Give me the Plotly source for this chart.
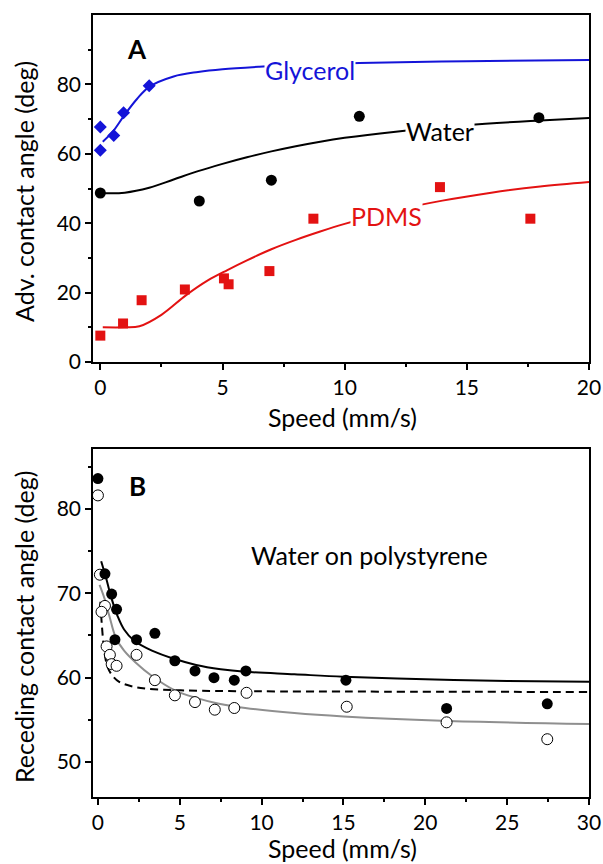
import plotly.graph_objects as go

# ---------------- Panel A data ----------------
gly_x = [0.0, 0.0, 0.55, 0.95, 2.0]
gly_y = [67.7, 61.0, 65.3, 71.8, 79.6]
gly_fit_x = [0.1, 0.5, 1.0, 1.5, 2.0, 3.0, 4.0, 5.0, 6.5, 8.0, 10.6, 15.0, 20.0]
gly_fit_y = [63.5, 66.3, 71.3, 75.8, 79.3, 82.3, 83.6, 84.4, 85.1, 85.6, 86.2, 86.7, 87.0]

wat_x = [0.0, 4.05, 7.0, 10.6, 17.95]
wat_y = [48.7, 46.4, 52.4, 70.8, 70.4]
wat_fit_x = [0.0, 1.0, 2.0, 3.0, 4.0, 5.0, 6.0, 7.0, 8.0, 9.0, 10.0, 12.0, 15.0, 18.0, 20.0]
wat_fit_y = [48.7, 48.8, 50.2, 52.6, 55.0, 57.1, 59.0, 60.7, 62.2, 63.5, 64.6, 66.3, 68.3, 69.6, 70.3]

pdms_x = [0.0, 0.93, 1.69, 3.46, 5.06, 5.25, 6.92, 8.72, 13.9, 17.6]
pdms_y = [7.6, 11.1, 17.8, 20.9, 24.1, 22.4, 26.2, 41.3, 50.4, 41.3]
pdms_fit_x = [0.1, 1.0, 1.6, 2.5, 3.5, 4.4, 5.2, 6.0, 7.0, 8.0, 9.0, 10.0, 12.0, 14.0, 16.0, 18.0, 20.0]
pdms_fit_y = [10.0, 10.0, 10.3, 13.6, 19.2, 23.5, 26.5, 29.3, 32.5, 35.2, 37.6, 39.8, 43.6, 46.5, 48.8, 50.6, 51.9]

# ---------------- Panel B data ----------------
fill_x = [0.0, 0.43, 0.84, 1.14, 1.04, 2.36, 3.48, 4.7, 5.93, 7.09, 8.33, 9.04, 15.15, 21.3, 27.45]
fill_y = [83.6, 72.3, 69.9, 68.1, 64.5, 64.5, 65.25, 62.0, 60.8, 60.0, 59.7, 60.8, 59.7, 56.35, 56.9]

open_x = [0.0, 0.12, 0.43, 0.22, 0.53, 0.73, 0.84, 1.14, 2.36, 3.48, 4.7, 5.93, 7.14, 8.33, 9.08, 15.2, 21.3, 27.45]
open_y = [81.6, 72.2, 68.5, 67.8, 63.7, 62.7, 61.6, 61.4, 62.7, 59.7, 57.9, 57.1, 56.2, 56.4, 58.2, 56.55, 54.7, 52.7]

blk_fit_x = [0.2, 0.5, 0.8, 1.2, 1.6, 2.2, 3.3, 4.7, 6.0, 7.5, 9.0, 12.0, 15.0, 20.0, 25.0, 30.0]
blk_fit_y = [73.8, 71.8, 69.6, 67.3, 65.7, 64.4, 63.2, 62.2, 61.5, 61.0, 60.7, 60.4, 60.1, 59.8, 59.6, 59.5]

gry_fit_x = [0.1, 0.4, 0.7, 1.1, 1.6, 2.3, 3.3, 4.7, 6.0, 7.4, 9.0, 12.0, 15.0, 21.0, 30.0]
gry_fit_y = [71.0, 69.4, 67.3, 64.7, 63.2, 61.8, 60.2, 58.5, 57.6, 56.9, 56.4, 55.8, 55.4, 54.9, 54.5]

dash_fit_x = [0.15, 0.25, 0.4, 0.6, 0.9, 1.3, 2.0, 3.0, 5.0, 8.0, 15.0, 30.0]
dash_fit_y = [69.0, 66.0, 63.0, 61.2, 60.2, 59.5, 59.0, 58.7, 58.5, 58.4, 58.35, 58.3]

# tick values
a_xticks = [0, 5, 10, 15, 20]
a_xminor = [2.5, 7.5, 12.5, 17.5]
a_yticks = [0, 20, 40, 60, 80]
a_yminor = [10, 30, 50, 70, 90]
b_xticks = [0, 5, 10, 15, 20, 25, 30]
b_xminor = [2.5, 7.5, 12.5, 17.5, 22.5, 27.5]
b_yticks = [50, 60, 70, 80]
b_yminor = [55, 65, 75, 85]

FONT = "Lato"
BLUE = "#1414D8"
RED = "#E31212"

fig = go.Figure()

# Panel A traces
fig.add_trace(go.Scatter(x=gly_fit_x, y=gly_fit_y, mode="lines", line=dict(color=BLUE, width=2, shape="spline"),
                         xaxis="x", yaxis="y", showlegend=False))
fig.add_trace(go.Scatter(x=wat_fit_x, y=wat_fit_y, mode="lines", line=dict(color="black", width=2, shape="spline"),
                         xaxis="x", yaxis="y", showlegend=False))
fig.add_trace(go.Scatter(x=pdms_fit_x, y=pdms_fit_y, mode="lines", line=dict(color=RED, width=2, shape="spline"),
                         xaxis="x", yaxis="y", showlegend=False))
fig.add_trace(go.Scatter(x=gly_x, y=gly_y, mode="markers", marker=dict(symbol="diamond", size=10, color=BLUE),
                         xaxis="x", yaxis="y", showlegend=False))
fig.add_trace(go.Scatter(x=wat_x, y=wat_y, mode="markers", marker=dict(symbol="circle", size=11, color="black"),
                         xaxis="x", yaxis="y", showlegend=False))
fig.add_trace(go.Scatter(x=pdms_x, y=pdms_y, mode="markers", marker=dict(symbol="square", size=10, color=RED),
                         xaxis="x", yaxis="y", showlegend=False))

# Panel B traces
fig.add_trace(go.Scatter(x=dash_fit_x, y=dash_fit_y, mode="lines",
                         line=dict(color="black", width=2, dash="8px,5px", shape="spline"),
                         xaxis="x2", yaxis="y2", showlegend=False))
fig.add_trace(go.Scatter(x=gry_fit_x, y=gry_fit_y, mode="lines", line=dict(color="#8f8f8f", width=2, shape="spline"),
                         xaxis="x2", yaxis="y2", showlegend=False))
fig.add_trace(go.Scatter(x=blk_fit_x, y=blk_fit_y, mode="lines", line=dict(color="black", width=2, shape="spline"),
                         xaxis="x2", yaxis="y2", showlegend=False))
fig.add_trace(go.Scatter(x=open_x, y=open_y, mode="markers",
                         marker=dict(symbol="circle", size=11, color="white", line=dict(color="black", width=1)),
                         xaxis="x2", yaxis="y2", showlegend=False))
fig.add_trace(go.Scatter(x=fill_x, y=fill_y, mode="markers", marker=dict(symbol="circle", size=11, color="black"),
                         xaxis="x2", yaxis="y2", showlegend=False))

DX = [93 / 603, 589 / 603]
DYA = [1 - 362 / 864, 1 - 15 / 864]
DYB = [1 - 797 / 864, 1 - 449 / 864]
XRA = [-0.3, 20]
YRA = [0, 100]
XRB = [-0.3, 30]
YRB = [45.85, 87.1]

tickfont = dict(family=FONT, size=21, color="black")
LW = 1.6


def main_axis(dom, rng, ticks, minor, anchor):
    return dict(domain=dom, range=rng, anchor=anchor, showline=True, linecolor="black", linewidth=LW,
                mirror=True, showgrid=False, zeroline=False, ticks="outside", ticklen=6, tickwidth=LW,
                tickcolor="black", tickvals=ticks, tickfont=tickfont, fixedrange=True, automargin=False,
                minor=dict(tickvals=minor, ticks="outside", ticklen=3, tickwidth=LW, tickcolor="black"))


def over_axis(dom, rng, ticks, minor, anchor, over, side, ln, mln):
    return dict(domain=dom, range=rng, anchor=anchor, overlaying=over, side=side, showline=False,
                showgrid=False, zeroline=False, ticks="inside", ticklen=ln, tickwidth=LW, tickcolor="black",
                tickvals=ticks, showticklabels=False, fixedrange=True, automargin=False,
                minor=dict(tickvals=minor, ticks="inside", ticklen=mln, tickwidth=LW, tickcolor="black"))


layout = dict(
    width=603, height=864, margin=dict(l=0, r=0, t=0, b=0, autoexpand=False),
    paper_bgcolor="white", plot_bgcolor="white", font=dict(family=FONT, color="black"),
    xaxis=main_axis(DX, XRA, a_xticks, a_xminor, "y"),
    yaxis=main_axis(DYA, YRA, a_yticks, a_yminor, "x"),
    xaxis2=main_axis(DX, XRB, b_xticks, b_xminor, "y2"),
    yaxis2=main_axis(DYB, YRB, b_yticks, b_yminor, "x2"),
    xaxis3=over_axis(DX, XRA, a_xticks, a_xminor, "y", "x", "bottom", 6, 3),
    xaxis4=over_axis(DX, XRA, a_xticks, a_xminor, "y", "x", "top", 5, 5),
    yaxis3=over_axis(DYA, YRA, a_yticks, a_yminor, "x", "y", "left", 6, 3),
    yaxis4=over_axis(DYA, YRA, a_yticks, a_yminor, "x", "y", "right", 5, 5),
    xaxis5=over_axis(DX, XRB, b_xticks, b_xminor, "y2", "x2", "bottom", 6, 3),
    xaxis6=over_axis(DX, XRB, b_xticks, b_xminor, "y2", "x2", "top", 5, 5),
    yaxis5=over_axis(DYB, YRB, b_yticks, b_yminor, "x2", "y2", "left", 6, 3),
    yaxis6=over_axis(DYB, YRB, b_yticks, b_yminor, "x2", "y2", "right", 5, 5),
)
fig.update_layout(**layout)

ann = []
lab = dict(showarrow=False, bgcolor="white", borderpad=0, xanchor="center", yanchor="middle")
ann.append(dict(x=8.57, y=84.2, xref="x", yref="y", text="Glycerol", font=dict(family=FONT, size=25, color=BLUE), **lab))
ann.append(dict(x=13.9, y=66.6, xref="x", yref="y", text="Water", font=dict(family=FONT, size=25, color="black"), **lab))
ann.append(dict(x=11.7, y=42.1, xref="x", yref="y", text="PDMS", font=dict(family=FONT, size=25, color=RED), **lab))
ann.append(dict(x=1.5, y=90.2, xref="x", yref="y", text="<b>A</b>", showarrow=False, xanchor="center", yanchor="middle",
                font=dict(family=FONT, size=26, color="black")))
ann.append(dict(x=2.39, y=82.7, xref="x2", yref="y2", text="<b>B</b>", showarrow=False, xanchor="center", yanchor="middle",
                font=dict(family=FONT, size=26, color="black")))
ann.append(dict(x=16.6, y=74.5, xref="x2", yref="y2", text="Water on polystyrene", showarrow=False,
                xanchor="center", yanchor="middle", font=dict(family=FONT, size=25, color="black")))
# axis titles
tf = dict(family=FONT, size=25, color="black")
cm = dict(xref="paper", yref="paper", showarrow=False, xanchor="center", yanchor="middle", font=tf)
ann.append(dict(x=342 / 603, y=1 - 417 / 864, text="Speed (mm/s)", **cm))
ann.append(dict(x=342 / 603, y=1 - 848 / 864, text="Speed (mm/s)", **cm))
ann.append(dict(x=24 / 603, y=1 - 192 / 864, text="Adv. contact angle (deg)", textangle=-90, **cm))
ann.append(dict(x=24 / 603, y=1 - 627 / 864, text="Receding contact angle (deg)", textangle=-90, **cm))
fig.update_layout(annotations=ann)

fig.write_html("out.html")
